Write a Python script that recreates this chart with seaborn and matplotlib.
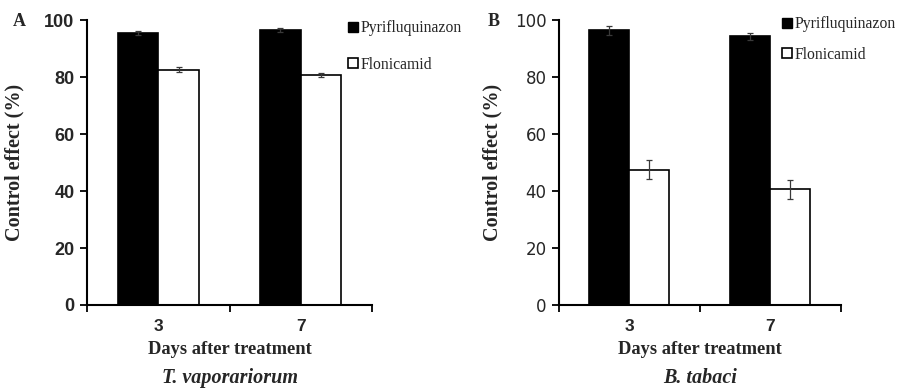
import pandas as pd
import matplotlib
matplotlib.use("Agg")
import matplotlib.pyplot as plt
from matplotlib.lines import Line2D
import seaborn as sns

# values
days = ["3", "7"]
treatments = ["Pyrifluquinazon", "Flonicamid"]

tv_pyri = [95.5, 96.6]
tv_flon = [82.6, 80.8]
tv_pyri_err = [0.7, 0.7]
tv_flon_err = [0.8, 0.8]

bt_pyri = [96.4, 94.3]
bt_flon = [47.5, 40.6]
bt_pyri_err = [1.5, 1.3]
bt_flon_err = [3.4, 3.4]

yticks = [0, 20, 40, 60, 80, 100]

sns.set_theme(style="ticks")
plt.rcParams["font.family"] = ["Liberation Serif", "DejaVu Serif"]

fig = plt.figure(figsize=(9, 3.88), dpi=100)
ax_a = fig.add_axes([0.0967, 0.214, 0.3166, 0.734])
ax_b = fig.add_axes([0.621, 0.214, 0.313, 0.734])


def make_frame(pyri, flon):
    rows = []
    for i, d in enumerate(days):
        rows.append({"day": d, "treatment": treatments[0], "value": pyri[i]})
        rows.append({"day": d, "treatment": treatments[1], "value": flon[i]})
    return pd.DataFrame(rows)


def draw_panel(ax, pyri, flon, pyri_err, flon_err, species, tick_font,
               legend_xy, legend_gap, letter, letter_x):
    df = make_frame(pyri, flon)
    sns.barplot(data=df, x="day", y="value", hue="treatment", hue_order=treatments,
                order=days, palette=["black", "white"], edgecolor="black",
                linewidth=1.2, width=0.57, errorbar=None, ax=ax, legend=False)

    # error bars at the centre of each bar
    errs = [pyri_err, flon_err]
    vals = [pyri, flon]
    bar_groups = list(ax.containers)
    for h, container in enumerate(bar_groups):
        xs = [p.get_x() + p.get_width() / 2 for p in container.patches]
        ax.errorbar(xs, vals[h], yerr=errs[h], fmt="none", ecolor="#3a3a3a",
                    elinewidth=0.9, capsize=2.5, capthick=0.9)

    ax.set_ylim(0, 100)
    ax.set_xlim(-0.5, 1.5)
    ax.set_yticks(yticks)
    ax.set_yticklabels([str(t) for t in yticks], **tick_font)
    ax.set_xticks([0, 1])
    ax.set_xticklabels(days, family="Liberation Sans", fontweight="bold", fontsize=12.5)
    ax.set_xticks([-0.5, 0.5, 1.5], minor=True)
    ax.tick_params(axis="x", which="major", length=0, pad=10)
    ax.tick_params(axis="x", which="minor", length=5, width=1.3, direction="out", color="black")
    ax.tick_params(axis="y", length=5, width=1.3, color="black", pad=4)

    for side in ["top", "right"]:
        ax.spines[side].set_visible(False)
    for side in ["left", "bottom"]:
        ax.spines[side].set_color("black")
        ax.spines[side].set_linewidth(1.5)

    ax.set_ylabel("Control effect (%)", fontsize=14.5, fontweight="bold")
    ax.set_xlabel("Days after treatment", fontsize=13.3, fontweight="bold", labelpad=5)
    ax.text(0.5, -0.255, species, transform=ax.transAxes, ha="center", va="center",
            fontsize=14.5, fontweight="bold", style="italic")

    handles = [
        Line2D([], [], marker="s", linestyle="none", markerfacecolor="black",
               markeredgecolor="black", markersize=7),
        Line2D([], [], marker="s", linestyle="none", markerfacecolor="white",
               markeredgecolor="black", markeredgewidth=1.2, markersize=7),
    ]
    fig.legend(handles, treatments, loc="upper left", bbox_to_anchor=legend_xy,
               frameon=False, fontsize=11.3, handlelength=0.6, handletextpad=0.2,
               labelspacing=legend_gap, borderpad=0)

    fig.text(letter_x, 0.945, letter, fontsize=13, fontweight="bold", ha="left", va="center")


draw_panel(ax_a, tv_pyri, tv_flon, tv_pyri_err, tv_flon_err, "T. vaporariorum",
           {"family": "Liberation Sans", "fontweight": "bold", "fontsize": 13},
           (0.378, 0.968), 1.3, "A", 0.014)
draw_panel(ax_b, bt_pyri, bt_flon, bt_pyri_err, bt_flon_err, "B. tabaci",
           {"family": "DejaVu Sans", "fontsize": 12},
           (0.86, 0.978), 0.9, "B", 0.542)

ax_a.yaxis.set_label_coords(-0.218, 0.5)
ax_b.yaxis.set_label_coords(-0.202, 0.5)

fig.savefig("out.png", dpi=100)
